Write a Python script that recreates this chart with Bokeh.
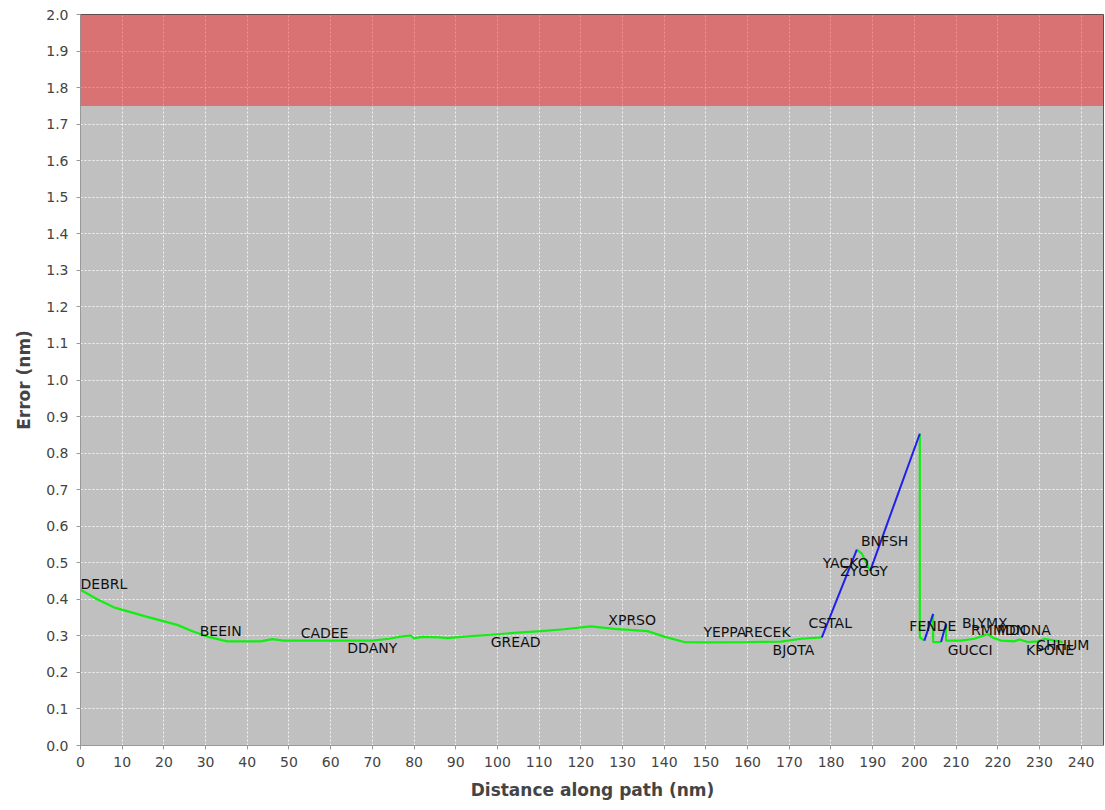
import math
from bokeh.plotting import figure
from bokeh.models import BoxAnnotation, ColumnDataSource, NumeralTickFormatter, FixedTicker, Range1d
from bokeh.core.properties import value
from bokeh.embed import file_html
from bokeh.resources import INLINE

NAN = float("nan")

# Route error profile (green = on path, blue = deviations)
green_x = [0, 4, 8, 16, 23.2, 27, 30.4, 35.2, 43.2, 46, 48.7, 60, 70, 74, 76.8, 79.2, 80, 82, 86, 88, 92,
           98.4, 104, 110.4, 116, 122.4, 128, 136, 140, 144.8, 150, 160, 168, 172.8, 177.8,
           NAN, 186.2, 187.4, 189.4,
           NAN, 201.3, 201.3, 202.4,
           NAN, 204.5, 204.5, 206.4,
           NAN, 207.6, 207.6, 211.2, 214.4, 217.6, 219, 220.8, 224, 225.2, 227.2, 229.6, 231.2, 233.6, 235.6]
green_y = [0.426, 0.40, 0.378, 0.352, 0.330, 0.312, 0.298, 0.285, 0.285, 0.291, 0.287, 0.287, 0.287, 0.292, 0.298, 0.301, 0.293, 0.297, 0.296, 0.294, 0.298,
           0.303, 0.308, 0.313, 0.318, 0.326, 0.319, 0.313, 0.298, 0.283, 0.282, 0.283, 0.284, 0.292, 0.296,
           NAN, 0.536, 0.525, 0.478,
           NAN, 0.853, 0.296, 0.287,
           NAN, 0.360, 0.283, 0.283,
           NAN, 0.333, 0.287, 0.287, 0.292, 0.305, 0.294, 0.287, 0.285, 0.290, 0.283, 0.285, 0.292, 0.287, 0.283]

blue_x = [177.8, 186.2, NAN, 189.4, 201.3, NAN, 202.4, 204.5, NAN, 206.4, 207.6]
blue_y = [0.296, 0.536, NAN, 0.478, 0.853, NAN, 0.287, 0.360, NAN, 0.283, 0.333]

# Waypoint labels
wp_names = ["DEBRL", "BEEIN", "CADEE", "DDANY", "GREAD", "XPRSO", "YEPPA", "RECEK", "BJOTA", "CSTAL",
            "YACKO", "ZYGGY", "BNFSH", "FENDE", "BLYMX", "RMMDN", "MDONA", "GUCCI", "KPONE", "CHHUM"]
wp_x = [0, 28.6, 52.8, 64, 98.4, 126.6, 149.4, 159.2, 166, 174.6,
        178, 182.2, 187.2, 198.8, 211.4, 213.6, 219.8, 208, 226.8, 229.2]
wp_y = [0.443, 0.312, 0.308, 0.268, 0.283, 0.342, 0.310, 0.310, 0.262, 0.336,
        0.499, 0.477, 0.559, 0.326, 0.334, 0.317, 0.317, 0.260, 0.260, 0.274]

threshold = 1.75
y_max = 2.0
x_max = 245.6
x_ticks = list(range(0, 241, 10))
y_ticks = [round(i * 0.1, 1) for i in range(0, 21)]

p = figure(width=1104, height=805, output_backend="svg", toolbar_location=None,
           x_range=Range1d(0, x_max), y_range=Range1d(0, y_max),
           min_border_left=80, min_border_right=0, min_border_top=14, min_border_bottom=60,
           background_fill_color="#C0C0C0", border_fill_color="white")

p.outline_line_color="#555555"
p.outline_line_width=1

p.add_layout(BoxAnnotation(bottom=threshold, top=y_max, fill_color="#FF0000", fill_alpha=0.4, line_alpha=0))

p.line(green_x, green_y, line_color="#11EE11", line_width=2.2)
p.line(blue_x, blue_y, line_color="#1F1FEF", line_width=2)

src = ColumnDataSource(dict(x=wp_x, y=wp_y, t=wp_names))
p.text(x="x", y="y", text="t", source=src, text_font=value("DejaVu Sans"), text_font_size="14px",
       text_color="#111111", text_align="left", text_baseline="alphabetic")

for g in (p.xgrid, p.ygrid):
    g.grid_line_color = "white"
    g.grid_line_dash = "2 2"
    g.grid_line_alpha = 0.8
p.xaxis.ticker = FixedTicker(ticks=x_ticks)
p.yaxis.ticker = FixedTicker(ticks=y_ticks)
p.xgrid.ticker = FixedTicker(ticks=x_ticks)
p.ygrid.ticker = FixedTicker(ticks=y_ticks)
p.yaxis.formatter = NumeralTickFormatter(format="0.0")

for ax in (p.xaxis, p.yaxis):
    ax.axis_line_color = "#999999"
    ax.major_tick_line_color = "#999999"
    ax.major_tick_in = 0
    ax.major_tick_out = 4
    ax.minor_tick_line_color = None
    ax.major_label_text_font = "DejaVu Sans"
    ax.major_label_text_font_size = "14px"
    ax.major_label_text_color = "#444444"
    ax.axis_label_text_font = "DejaVu Sans"
    ax.axis_label_text_font_size = "17px"
    ax.axis_label_text_font_style = "bold"
    ax.axis_label_text_color = "#444444"

p.xaxis.major_label_standoff = 7
p.yaxis.major_label_standoff = 8
p.xaxis.axis_label = "Distance along path (nm)"
p.yaxis.axis_label = "Error (nm)"
p.xaxis.axis_label_standoff = 10
p.yaxis.axis_label_standoff = 9

open("out.html", "w").write(file_html(p, INLINE))
